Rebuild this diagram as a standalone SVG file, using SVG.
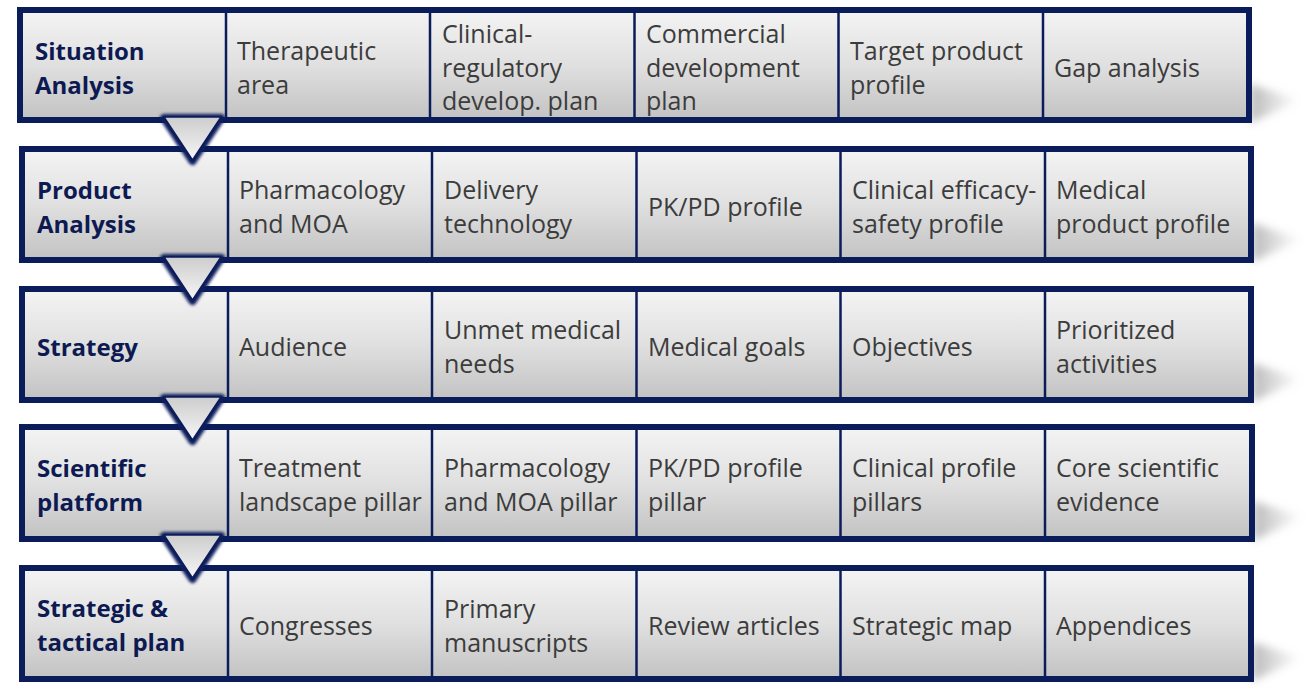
<svg xmlns="http://www.w3.org/2000/svg" width="1312" height="693" viewBox="0 0 1312 693">
<defs>
<linearGradient id="cell" x1="0" y1="0" x2="0" y2="1">
<stop offset="0" stop-color="#f4f4f4"/>
<stop offset="0.5" stop-color="#e0e0e0"/>
<stop offset="1" stop-color="#c2c2c2"/>
</linearGradient>
<linearGradient id="tri" x1="0" y1="0" x2="0" y2="1">
<stop offset="0" stop-color="#cdcdcd"/>
<stop offset="1" stop-color="#f6f6f6"/>
</linearGradient>
<linearGradient id="shd" x1="0" y1="0" x2="1" y2="0">
<stop offset="0" stop-color="#8a8a8a" stop-opacity="0.6"/>
<stop offset="1" stop-color="#a0a0a0" stop-opacity="0"/>
</linearGradient>
<filter id="blur" x="-30%" y="-30%" width="160%" height="160%"><feGaussianBlur stdDeviation="1.8"/></filter>
<filter id="sblur" x="-50%" y="-50%" width="200%" height="200%"><feGaussianBlur stdDeviation="4"/></filter>
</defs>
<style>
.frame{fill:url(#cell);stroke:#0b1c5b;stroke-width:6}
.div{stroke:#0b1c5b;stroke-width:2.5}
.h{font-family:"Open Sans","Noto Sans",sans-serif;font-weight:bold;font-size:24px;fill:#0d1a52}
.t{font-family:"Open Sans","Noto Sans",sans-serif;font-size:25px;fill:#3c3c3c}
.shadow{fill:url(#shd);filter:url(#sblur)}
.tglow{fill:none;stroke:#0b1c5b;stroke-width:8;stroke-linejoin:round;filter:url(#blur)}
.tfill{fill:url(#tri);stroke:#0b1c5b;stroke-width:1.5;stroke-linejoin:round}
</style>

<g id="shadows">
<polygon class="shadow" points="1250,84 1300,100 1250,123"/>
<polygon class="shadow" points="1252,223 1302,239 1252,262"/>
<polygon class="shadow" points="1252,363 1302,379 1252,402"/>
<polygon class="shadow" points="1253,501 1303,517 1253,541"/>
<polygon class="shadow" points="1252,642 1302,658 1252,681"/>
</g>

<g id="row1">
<rect class="frame" x="20" y="10" width="1229" height="110"/>
<line class="div" x1="226" y1="13" x2="226" y2="117"/>
<line class="div" x1="430" y1="13" x2="430" y2="117"/>
<line class="div" x1="634.5" y1="13" x2="634.5" y2="117"/>
<line class="div" x1="838.5" y1="13" x2="838.5" y2="117"/>
<line class="div" x1="1043" y1="13" x2="1043" y2="117"/>
<text class="h" x="35" y="60">Situation</text>
<text class="h" x="35" y="94">Analysis</text>
<text class="t" x="237" y="60">Therapeutic</text>
<text class="t" x="237" y="94">area</text>
<text class="t" x="442" y="43">Clinical-</text>
<text class="t" x="442" y="77">regulatory</text>
<text class="t" x="442" y="110">develop. plan</text>
<text class="t" x="646" y="43">Commercial</text>
<text class="t" x="646" y="77">development</text>
<text class="t" x="646" y="110">plan</text>
<text class="t" x="850" y="60">Target product</text>
<text class="t" x="850" y="94">profile</text>
<text class="t" x="1054" y="77">Gap analysis</text>
</g>

<g id="row2">
<rect class="frame" x="22" y="149" width="1229" height="111"/>
<line class="div" x1="228" y1="152" x2="228" y2="257"/>
<line class="div" x1="432" y1="152" x2="432" y2="257"/>
<line class="div" x1="636.5" y1="152" x2="636.5" y2="257"/>
<line class="div" x1="840.5" y1="152" x2="840.5" y2="257"/>
<line class="div" x1="1045" y1="152" x2="1045" y2="257"/>
<text class="h" x="37" y="199">Product</text>
<text class="h" x="37" y="233">Analysis</text>
<text class="t" x="239" y="199">Pharmacology</text>
<text class="t" x="239" y="233">and MOA</text>
<text class="t" x="444" y="199">Delivery</text>
<text class="t" x="444" y="233">technology</text>
<text class="t" x="648" y="216">PK/PD profile</text>
<text class="t" x="852" y="199">Clinical efficacy-</text>
<text class="t" x="852" y="233">safety profile</text>
<text class="t" x="1056" y="199">Medical</text>
<text class="t" x="1056" y="233">product profile</text>
</g>

<g id="row3">
<rect class="frame" x="22" y="289" width="1229" height="111"/>
<line class="div" x1="228" y1="292" x2="228" y2="397"/>
<line class="div" x1="432" y1="292" x2="432" y2="397"/>
<line class="div" x1="636.5" y1="292" x2="636.5" y2="397"/>
<line class="div" x1="840.5" y1="292" x2="840.5" y2="397"/>
<line class="div" x1="1045" y1="292" x2="1045" y2="397"/>
<text class="h" x="37" y="356">Strategy</text>
<text class="t" x="239" y="356">Audience</text>
<text class="t" x="444" y="339">Unmet medical</text>
<text class="t" x="444" y="373">needs</text>
<text class="t" x="648" y="356">Medical goals</text>
<text class="t" x="852" y="356">Objectives</text>
<text class="t" x="1056" y="339">Prioritized</text>
<text class="t" x="1056" y="373">activities</text>
</g>

<g id="row4">
<rect class="frame" x="22" y="427" width="1230" height="112"/>
<line class="div" x1="228" y1="430" x2="228" y2="536"/>
<line class="div" x1="432" y1="430" x2="432" y2="536"/>
<line class="div" x1="636.5" y1="430" x2="636.5" y2="536"/>
<line class="div" x1="840.5" y1="430" x2="840.5" y2="536"/>
<line class="div" x1="1045" y1="430" x2="1045" y2="536"/>
<text class="h" x="37" y="477">Scientific</text>
<text class="h" x="37" y="511">platform</text>
<text class="t" x="239" y="477">Treatment</text>
<text class="t" x="239" y="511">landscape pillar</text>
<text class="t" x="444" y="477">Pharmacology</text>
<text class="t" x="444" y="511">and MOA pillar</text>
<text class="t" x="648" y="477">PK/PD profile</text>
<text class="t" x="648" y="511">pillar</text>
<text class="t" x="852" y="477">Clinical profile</text>
<text class="t" x="852" y="511">pillars</text>
<text class="t" x="1056" y="477">Core scientific</text>
<text class="t" x="1056" y="511">evidence</text>
</g>

<g id="row5">
<rect class="frame" x="22" y="568" width="1229" height="111"/>
<line class="div" x1="228" y1="571" x2="228" y2="676"/>
<line class="div" x1="432" y1="571" x2="432" y2="676"/>
<line class="div" x1="636.5" y1="571" x2="636.5" y2="676"/>
<line class="div" x1="840.5" y1="571" x2="840.5" y2="676"/>
<line class="div" x1="1045" y1="571" x2="1045" y2="676"/>
<text class="h" x="37" y="617">Strategic &amp;</text>
<text class="h" x="37" y="651">tactical plan</text>
<text class="t" x="239" y="635">Congresses</text>
<text class="t" x="444" y="618">Primary</text>
<text class="t" x="444" y="652">manuscripts</text>
<text class="t" x="648" y="635">Review articles</text>
<text class="t" x="852" y="635">Strategic map</text>
<text class="t" x="1056" y="635">Appendices</text>
</g>

<g id="connectors">
<polygon class="tglow" points="164,118 221,118 192.5,161"/>
<polygon class="tfill" points="164,117 221,117 192.5,160"/>
<polygon class="tglow" points="164,258 221,258 192.5,301"/>
<polygon class="tfill" points="164,257 221,257 192.5,300"/>
<polygon class="tglow" points="164,398 221,398 192.5,441"/>
<polygon class="tfill" points="164,397 221,397 192.5,440"/>
<polygon class="tglow" points="164,536 221,536 192.5,579"/>
<polygon class="tfill" points="164,535 221,535 192.5,578"/>
</g>
</svg>
